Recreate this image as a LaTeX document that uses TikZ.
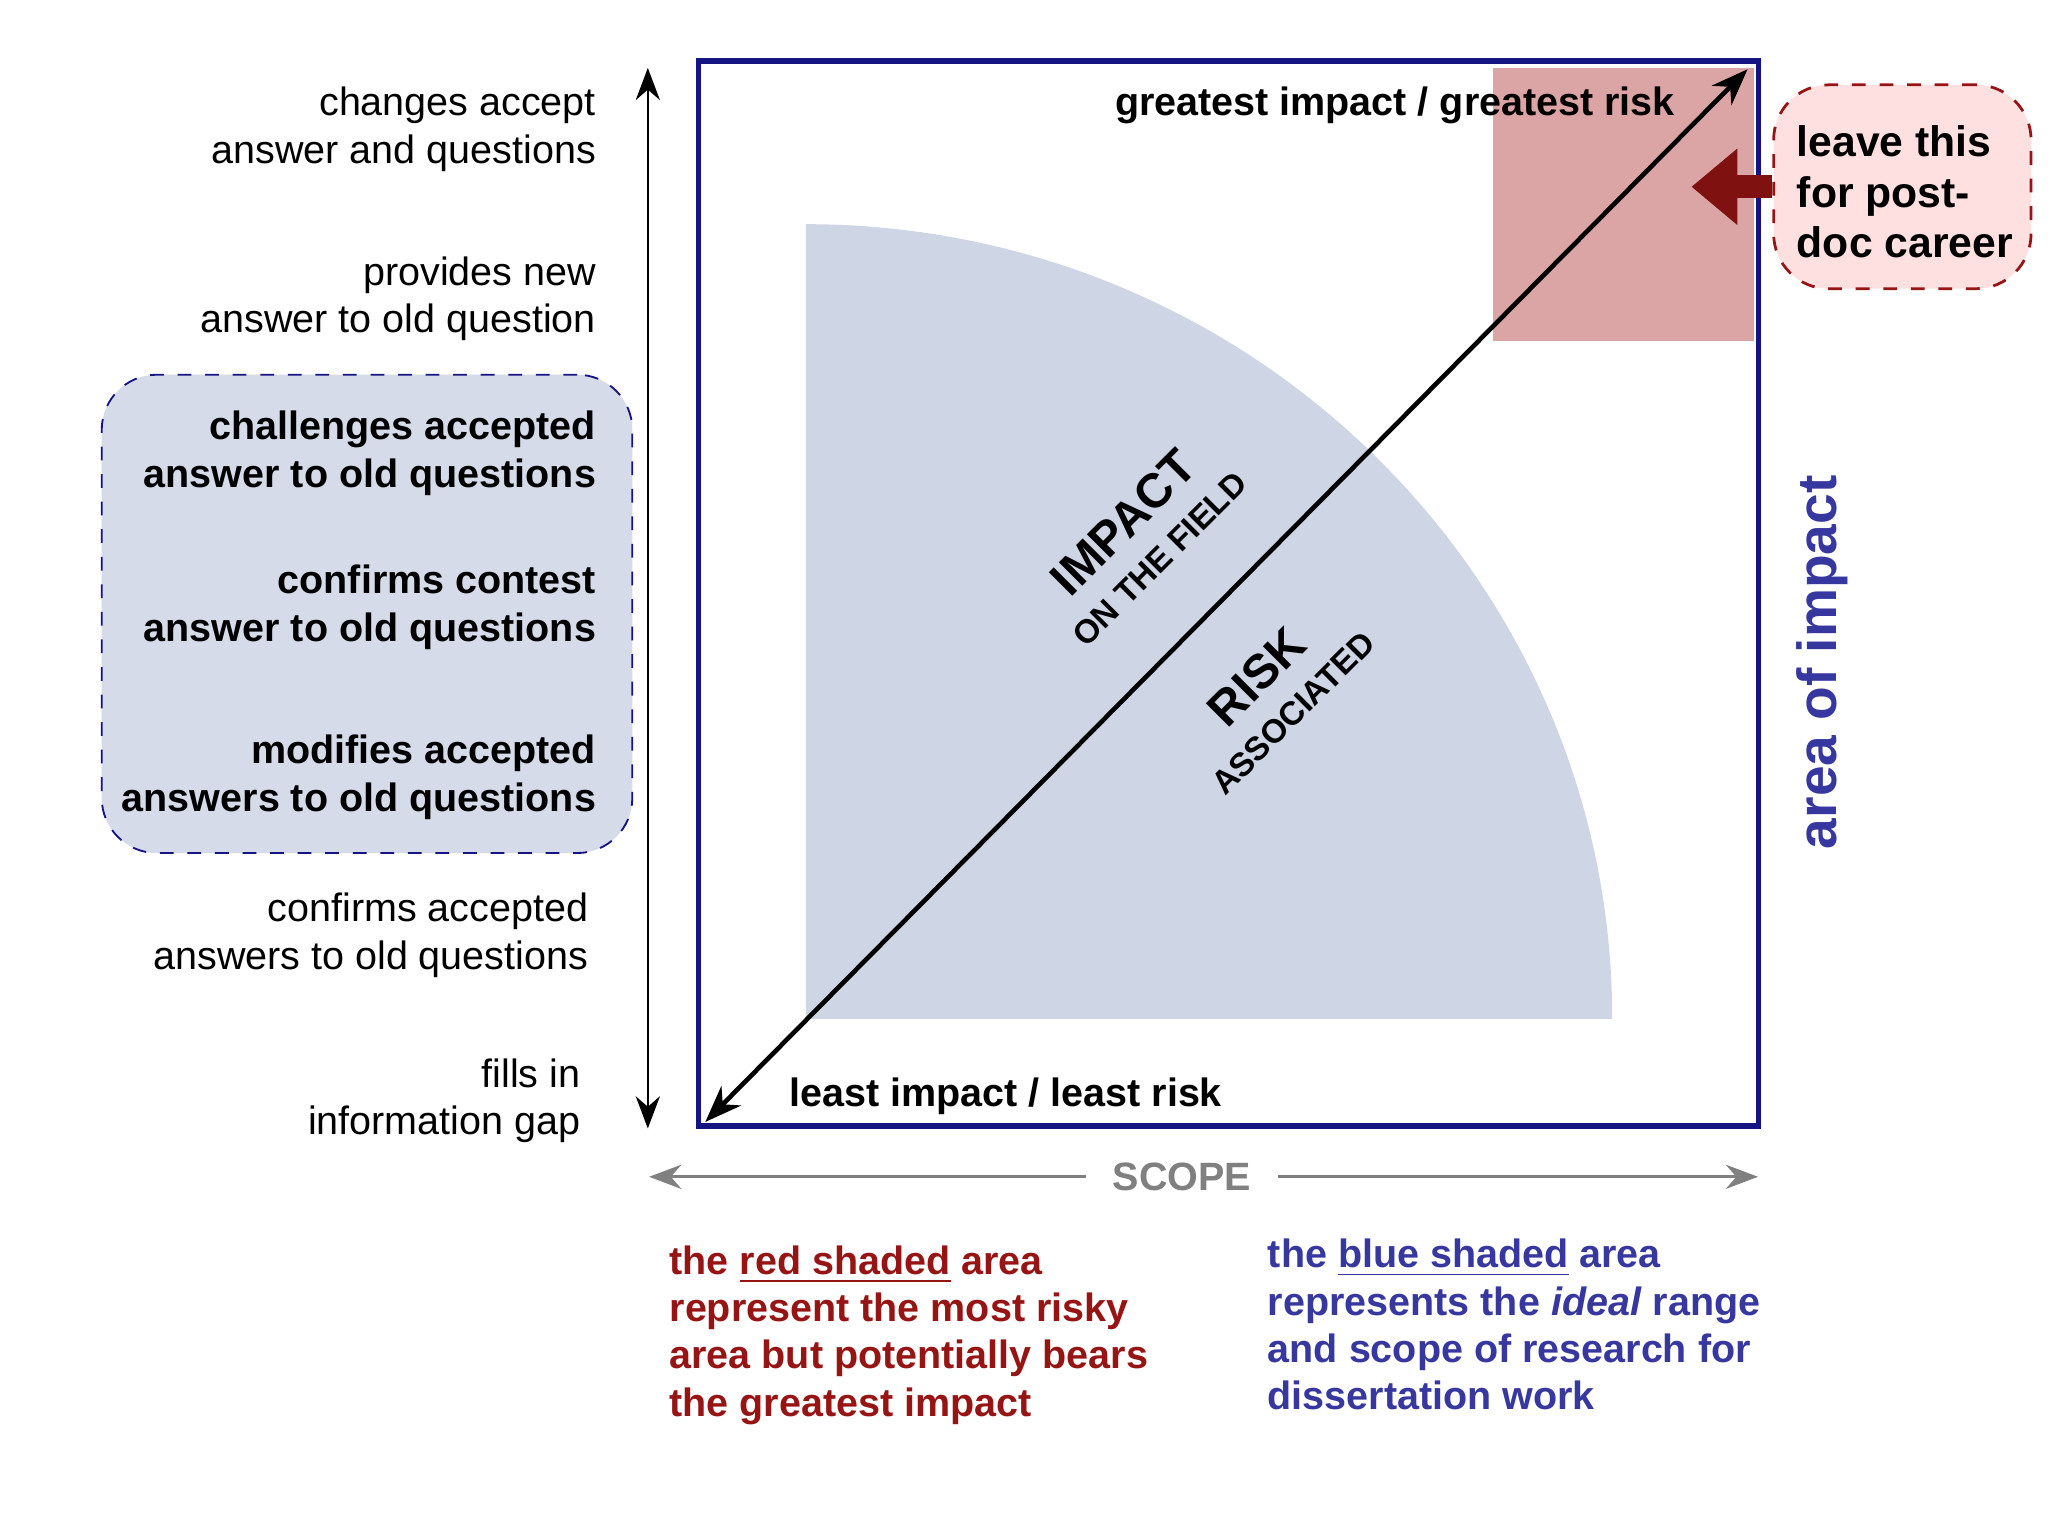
\documentclass[tikz,border=0pt]{standalone}
\usepackage{fontspec}
\setmainfont{Liberation Sans}
\usetikzlibrary{arrows.meta}
\definecolor{navy}{RGB}{20,20,130}
\definecolor{dred}{RGB}{150,20,20}
\definecolor{ablue}{RGB}{55,55,160}
\definecolor{shblue}{RGB}{206,213,228}
\definecolor{shred}{RGB}{220,165,165}
\tikzset{
 lt/.style={font=\fontsize{8.6}{10.3}\selectfont,align=right,anchor=east,inner sep=0},
 bt/.style={font=\fontsize{8.6}{10.3}\selectfont\bfseries,align=right,anchor=east,inner sep=0},
 bb/.style={font=\fontsize{8.6}{10.3}\selectfont\bfseries,align=left,anchor=north west,inner sep=0},
}
\begin{document}
\begin{tikzpicture}[x=0.01cm,y=-0.01cm]
\useasboundingbox (0,0) rectangle (1568,1176);
\fill[white] (0,0) rectangle (1568,1176);
% blue quarter disk
\begin{scope}
\clip (617,172) rectangle (1240,780);
\fill[shblue] (617,780) circle[x radius=6.17cm,y radius=6.08cm];
\end{scope}
% red square
\fill[shred] (1143,52) rectangle (1343,261);
% main square
\node[draw=navy,line width=1.2pt,minimum width=8.11cm,minimum height=8.15cm,inner sep=0] (sq) at (940.5,454.5) {};
\coordinate (ll) at (540,859);
\coordinate (ur) at (1338,53);
\draw[line width=1pt,{Stealth[length=8pt]}-{Stealth[length=8pt]}] (ll) -- (ur);
% vertical arrow
\coordinate (vt) at (496,52); \coordinate (vb) at (496,864);
\draw[line width=0.5pt,{Stealth[length=7pt]}-{Stealth[length=7pt]}] (vt) -- (vb);
% scope
\node[text=gray,font=\fontsize{8.6}{10}\selectfont\bfseries] (scope) at (905,901) {SCOPE};
\coordinate (sl) at (497,901); \coordinate (sr) at (1346,901);
\draw[gray,line width=0.6pt,-{Stealth[length=7pt]}] (scope.west) ++(-8,0) -- (sl);
\draw[gray,line width=0.6pt,-{Stealth[length=7pt]}] (scope.east) ++(8,0) -- (sr);
% left box
\node[draw=navy,dashed,fill=shblue!85!white,rounded corners=12pt,minimum width=4.06cm,minimum height=3.66cm] (lbox) at (281,470) {};
\node[lt] (t1) at (457,99) {changes accept\\answer and questions};
\node[lt] (t2) at (457,229) {provides new\\answer to old question};
\node[bt] (t3) at (457,347) {challenges accepted\\answer to old questions};
\node[bt] (t4) at (457,465) {confirms contest\\answer to old questions};
\node[bt] (t5) at (457,595) {modifies accepted\\answers to old questions};
\node[lt] (t6) at (451,716) {confirms accepted\\answers to old questions};
\node[lt] (t7) at (445,843) {fills in\\information gap};
% inside labels
\node[font=\fontsize{8.6}{10}\selectfont\bfseries] (gi) at (1068,81) {greatest impact / greatest risk};
\node[font=\fontsize{8.6}{10}\selectfont\bfseries] (li) at (770,839) {least impact / least risk};
\node[rotate=45,font=\fontsize{10.5}{11}\selectfont\bfseries,inner sep=0] (imp) at (860,400) {IMPACT};
\node[rotate=45,font=\fontsize{7.2}{8}\selectfont\bfseries,inner sep=0] (otf) at (888,428) {ON THE FIELD};
\node[rotate=45,font=\fontsize{10.5}{11}\selectfont\bfseries,inner sep=0] (risk) at (962,518) {RISK};
\node[rotate=45,font=\fontsize{7.2}{8}\selectfont\bfseries,inner sep=0] (ass) at (990,546) {ASSOCIATED};
% red box
\node[draw=dred,dashed,fill=red!12,rounded corners=12pt,minimum width=1.97cm,minimum height=1.56cm,line width=0.6pt] (rbox) at (1456.5,143) {};
\node[font=\fontsize{9.3}{11}\selectfont\bfseries,align=left,anchor=west,inner sep=0] (rt) at (1375,147) {leave this\\for post-\\doc career};
\coordinate (rtip) at (1295,143);
\draw[dred!85!black,line width=5pt,-{Triangle[length=10pt,width=16pt]}] (rbox.west) -- (rtip);
% area of impact
\node[rotate=90,text=ablue,font=\fontsize{12}{14}\selectfont\bfseries] (aoi) at (1395,507) {area of impact};
% bottom texts
\node[bb,text=dred] (bl) at (512,953) {the \underline{red shaded} area\\represent the most risky\\area but potentially bears\\the greatest impact};
\node[bb,text=ablue] (br) at (970,948) {the \underline{blue shaded} area\\represents the \textit{ideal} range\\and scope of research for\\dissertation work};
\end{tikzpicture}
\end{document}
